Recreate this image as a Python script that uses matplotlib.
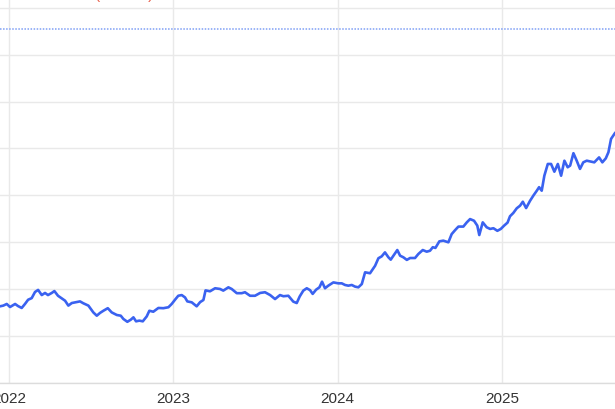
import matplotlib
matplotlib.use("Agg")
import matplotlib.pyplot as plt

# decimal-year positions of the series and its values
years = [
    2021.945, 2021.965, 2021.986, 2022.006, 2022.037, 2022.055, 2022.077, 2022.097, 2022.116, 2022.138,
    2022.158, 2022.177, 2022.199, 2022.219, 2022.237, 2022.260, 2022.276, 2022.298, 2022.321, 2022.341,
    2022.361, 2022.382, 2022.412, 2022.432, 2022.452, 2022.483, 2022.513, 2022.534, 2022.554, 2022.574,
    2022.601, 2022.625, 2022.656, 2022.680, 2022.696, 2022.720, 2022.741, 2022.757, 2022.773, 2022.793,
    2022.814, 2022.838, 2022.854, 2022.878, 2022.909, 2022.939, 2022.970, 2022.990, 2023.010, 2023.030,
    2023.051, 2023.071, 2023.085, 2023.112, 2023.142, 2023.163, 2023.183, 2023.196, 2023.223, 2023.254,
    2023.284, 2023.304, 2023.335, 2023.355, 2023.386, 2023.416, 2023.436, 2023.467, 2023.497, 2023.528,
    2023.558, 2023.589, 2023.619, 2023.649, 2023.670, 2023.700, 2023.730, 2023.751, 2023.769, 2023.791,
    2023.812, 2023.832, 2023.848, 2023.869, 2023.889, 2023.905, 2023.923, 2023.943, 2023.974, 2024.004,
    2024.025, 2024.045, 2024.065, 2024.086, 2024.106, 2024.126, 2024.147, 2024.167, 2024.197, 2024.228,
    2024.248, 2024.268, 2024.288, 2024.309, 2024.323, 2024.349, 2024.363, 2024.380, 2024.400, 2024.421,
    2024.441, 2024.471, 2024.491, 2024.518, 2024.542, 2024.562, 2024.579, 2024.595, 2024.619, 2024.643,
    2024.674, 2024.694, 2024.715, 2024.735, 2024.765, 2024.786, 2024.806, 2024.830, 2024.850, 2024.862,
    2024.883, 2024.907, 2024.928, 2024.948, 2024.972, 2024.993, 2025.013, 2025.034, 2025.049, 2025.069,
    2025.090, 2025.110, 2025.127, 2025.147, 2025.171, 2025.191, 2025.212, 2025.226, 2025.242, 2025.258,
    2025.279, 2025.299, 2025.319, 2025.340, 2025.360, 2025.380, 2025.400, 2025.415, 2025.435, 2025.455,
    2025.475, 2025.495, 2025.516, 2025.542, 2025.562, 2025.591, 2025.611, 2025.632, 2025.648, 2025.664,
    2025.688, 2025.707,
]
values = [
    72.7, 73.0, 73.7, 72.4, 73.7, 72.8, 72.0, 73.7, 75.5, 76.2,
    78.8, 79.7, 77.5, 78.4, 77.5, 78.4, 79.2, 77.2, 76.1, 75.1,
    73.0, 74.1, 74.5, 74.8, 74.0, 73.0, 70.1, 68.7, 69.9, 70.8,
    71.9, 70.1, 69.0, 68.7, 67.3, 66.1, 67.0, 68.0, 66.3, 66.6,
    66.3, 68.4, 70.8, 70.4, 72.0, 71.9, 72.3, 73.7, 75.5, 77.2,
    77.5, 76.5, 74.8, 74.4, 72.7, 74.5, 75.4, 79.5, 79.1, 80.4,
    80.1, 79.4, 80.8, 80.1, 78.3, 78.3, 78.7, 77.2, 77.2, 78.4,
    78.7, 77.5, 75.8, 77.5, 77.0, 77.2, 74.7, 74.1, 76.9, 79.4,
    80.4, 79.6, 78.0, 79.8, 80.8, 83.2, 80.4, 81.5, 82.9, 82.5,
    82.5, 81.8, 81.5, 81.8, 81.1, 80.8, 82.2, 87.2, 86.8, 90.0,
    93.2, 94.0, 95.7, 93.6, 92.6, 95.3, 96.7, 94.3, 93.6, 92.5,
    93.3, 93.3, 95.0, 96.7, 96.0, 96.4, 97.9, 97.6, 100.4, 100.7,
    100.0, 103.5, 105.2, 106.7, 106.7, 108.5, 109.9, 109.2, 107.1, 103.1,
    108.5, 106.4, 105.7, 106.0, 104.9, 105.7, 107.1, 108.4, 111.1, 112.5,
    114.5, 115.6, 117.3, 114.6, 117.7, 119.9, 122.0, 123.5, 122.0, 128.4,
    133.4, 133.4, 130.1, 133.4, 128.4, 134.8, 132.0, 132.7, 138.0, 134.8,
    131.3, 134.1, 134.8, 134.4, 134.1, 136.2, 134.1, 135.8, 138.4, 144.1,
    146.6, 147.9,
]
reference_level = 191.0
year_ticks = [2022, 2023, 2024, 2025]
year_labels = ["2022", "2023", "2024", "2025"]
y_grid = [40, 60, 80, 100, 120, 140, 160, 180, 200]

plt.rcParams["font.family"] = ["Liberation Sans", "DejaVu Sans"]

fig = plt.figure(figsize=(6.15, 4.10), dpi=100)
ax = fig.add_axes([0.0, 26 / 410, 1.0, 384 / 410])

ax.plot(years, values, color="#3a62f0", lw=1.9, solid_joinstyle="round", zorder=3)
ax.axhline(reference_level, color="#7f9ff5", lw=1.1, ls=(0, (1, 1)), zorder=2)

ax.set_xlim(2021.945, 2025.688)
ax.set_ylim(40, 203.75)
ax.set_xticks(year_ticks)
ax.set_xticklabels(year_labels)
ax.set_yticks(y_grid)
ax.grid(True, color="#e9e9e9", lw=1.0)
ax.set_axisbelow(True)
ax.tick_params(axis="x", length=0, pad=6, labelsize=11, labelcolor="#333333")
ax.tick_params(axis="y", length=0, labelleft=False)
for side in ["top", "left", "right"]:
    ax.spines[side].set_visible(False)
ax.spines["bottom"].set_color("#dcdcdc")
ax.spines["bottom"].set_linewidth(1.0)

# legend text lying mostly above the visible area
fig.text(95 / 615, 1.0 + 1.5 / 410, "(+128%)", color="#e8604c", fontsize=11,
         ha="left", va="baseline")

fig.savefig("out.png", dpi=100)
